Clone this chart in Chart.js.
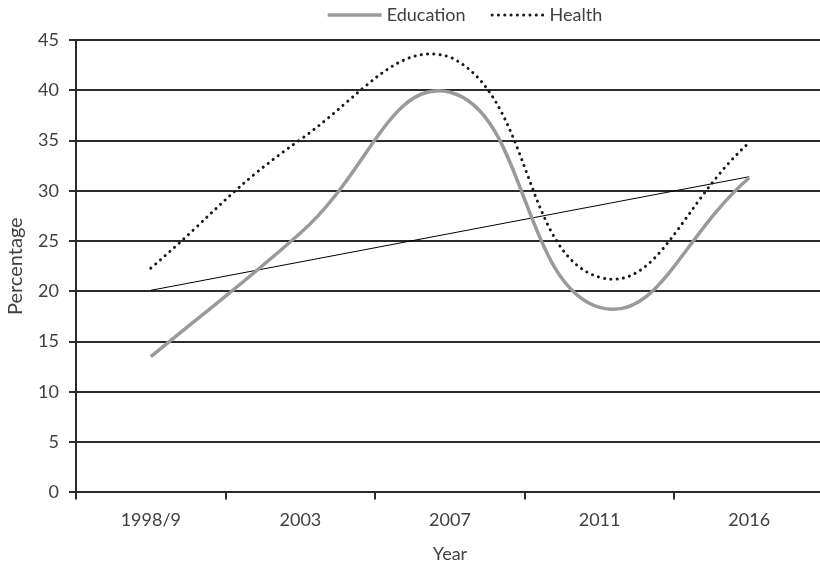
<!DOCTYPE html>
<html>
<head>
<meta charset="utf-8">
<script src="https://cdn.jsdelivr.net/npm/chart.js@4/dist/chart.umd.min.js"></script>
<style>
  html, body { margin: 0; padding: 0; background: #fff; overflow: hidden; }
  #wrap { width: 824px; height: 563px; }
</style>
</head>
<body>
<div id="wrap"><canvas id="c" width="824" height="563"></canvas></div>
<script>
// Share of spending by year
const years = ['1998/9', '2003', '2007', '2011', '2016'];
const education = [13.5, 25.8, 39.8, 18.4, 31.3];
const health = [22.3, 35.1, 43.3, 21.4, 34.8];
// linear trend of the education series (end points)
const educationTrend = [20.1, null, null, null, 31.4];
const yTicks = { min: 0, max: 45, step: 5 };

const FONT = 'Lato, "Open Sans", sans-serif';
const TEXT = '#404040';
const AXIS = '#2b2b2b';

// Legend row at the top: line sample followed by the series name
const topLegend = {
  id: 'topLegend',
  afterDraw(chart) {
    const ctx = chart.ctx;
    const items = chart.data.datasets.filter(d => d.showInLegend);
    const sample = 54, gapText = 5, gapItem = 25, y = 15;
    ctx.save();
    ctx.font = '18px ' + FONT;
    const widths = items.map(d => sample + gapText + ctx.measureText(d.label).width);
    const total = widths.reduce((a, b) => a + b, 0) + gapItem * (items.length - 1);
    let x = 465 - total / 2;
    items.forEach((d, i) => {
      ctx.beginPath();
      ctx.strokeStyle = d.borderColor;
      ctx.lineWidth = d.borderWidth;
      ctx.lineCap = d.borderCapStyle || 'butt';
      ctx.setLineDash(d.borderDash || []);
      ctx.moveTo(x + (d.borderDash ? 1.5 : 0), y);
      ctx.lineTo(x + sample, y);
      ctx.stroke();
      ctx.setLineDash([]);
      ctx.fillStyle = TEXT;
      ctx.textBaseline = 'middle';
      ctx.textAlign = 'left';
      ctx.fillText(d.label, x + sample + gapText, y);
      x += widths[i] + gapItem;
    });
    ctx.restore();
  }
};

new Chart(document.getElementById('c'), {
  type: 'line',
  data: {
    labels: years,
    datasets: [
      {
        label: 'Education',
        showInLegend: true,
        data: education,
        borderColor: '#9a9a9a',
        backgroundColor: '#9a9a9a',
        borderWidth: 3.5,
        tension: 0.45,
        pointRadius: 0,
        borderCapStyle: 'butt',
        fill: false
      },
      {
        label: 'Health',
        showInLegend: true,
        data: health,
        borderColor: '#1a1a1a',
        backgroundColor: '#1a1a1a',
        borderWidth: 3,
        borderDash: [0.1, 6.2],
        borderCapStyle: 'round',
        tension: 0.45,
        pointRadius: 0,
        fill: false
      },
      {
        label: 'Education trend',
        showInLegend: false,
        data: educationTrend,
        borderColor: '#000',
        borderWidth: 1,
        spanGaps: true,
        tension: 0,
        pointRadius: 0,
        fill: false
      }
    ]
  },
  options: {
    responsive: false,
    animation: false,
    layout: { padding: { left: 0, right: 0, top: 40, bottom: 0 } },
    plugins: {
      tooltip: { enabled: false },
      legend: { display: false }
    },
    scales: {
      x: {
        offset: true,
        grid: {
          offset: true,
          drawOnChartArea: false,
          drawTicks: true,
          tickLength: 7,
          color: AXIS,
          lineWidth: 2
        },
        border: { display: true, color: AXIS, width: 2 },
        ticks: { font: { family: FONT, size: 18 }, color: TEXT, padding: 10, maxRotation: 0 },
        title: { display: true, text: 'Year', font: { family: FONT, size: 18, lineHeight: 1.0 }, color: TEXT, padding: { top: 4, bottom: 0 } }
      },
      y: {
        min: yTicks.min,
        max: yTicks.max,
        afterFit: (s) => { s.width = 76; },
        grid: {
          drawOnChartArea: true,
          drawTicks: true,
          tickLength: 7,
          color: AXIS,
          lineWidth: 2
        },
        border: { display: true, color: AXIS, width: 2 },
        ticks: { stepSize: yTicks.step, font: { family: FONT, size: 18 }, color: TEXT, padding: 10 },
        title: { display: true, text: 'Percentage', font: { family: FONT, size: 20 }, color: TEXT, padding: { top: 4, bottom: 0 } }
      }
    }
  },
  plugins: [topLegend]
});
</script>
</body>
</html>
